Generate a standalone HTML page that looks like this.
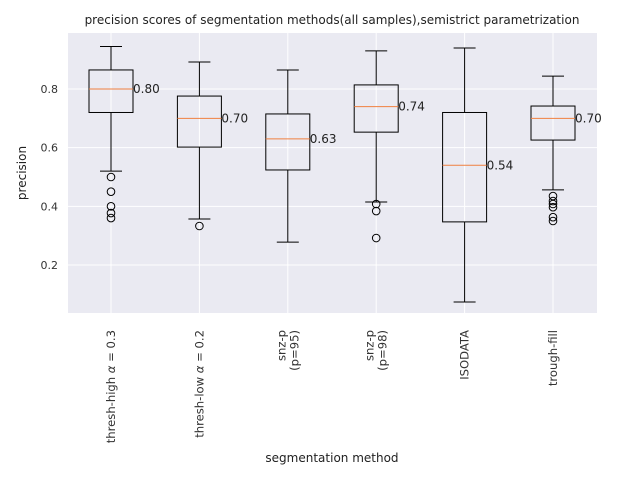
<!DOCTYPE html>
<html><head><meta charset="utf-8"><style>
body{margin:0;background:#fff;}
svg{display:block;font-family:"DejaVu Sans","Liberation Sans",sans-serif;}
</style></head><body>
<svg id="chart" width="640" height="480" viewBox="0 0 640 480" xmlns="http://www.w3.org/2000/svg">
<rect x="68" y="33" width="529" height="280" fill="#eaeaf2"/>
<g id="grid"></g>
<g id="marks"></g>
<g id="labels"></g>
<text x="332" y="24" font-size="12" text-anchor="middle" fill="#222">precision scores of segmentation methods(all samples),semistrict parametrization</text>
<text x="332" y="462" font-size="12" text-anchor="middle" fill="#222">segmentation method</text>
<text x="26" y="173" font-size="12" text-anchor="middle" fill="#222" transform="rotate(-90 26 173)">precision</text>
</svg>
<script>
const categories=["thresh-high |α| = 0.3","thresh-low |α| = 0.2","snz-p\n(p=95)","snz-p\n(p=98)","ISODATA","trough-fill"];
const whisLo=[0.52,0.357,0.278,0.415,0.074,0.456];
const q1=[0.72,0.602,0.524,0.653,0.347,0.626];
const medians=[0.80,0.70,0.63,0.74,0.54,0.70];
const q3=[0.865,0.776,0.715,0.814,0.72,0.742];
const whisHi=[0.945,0.892,0.865,0.93,0.94,0.844];
const outliers=[[0.50,0.45,0.40,0.377,0.36],[0.333],[],[0.408,0.384,0.292],[],[0.435,0.418,0.408,0.397,0.363,0.35]];
const yTicks=[0.2,0.4,0.6,0.8];
const NS="http://www.w3.org/2000/svg";
const y=v=>265-(v-0.2)*293.3;
const x=i=>111+i*88.4;
function mk(p,t,a){const e=document.createElementNS(NS,t);for(const k in a)e.setAttribute(k,a[k]);p.appendChild(e);return e;}
const grid=document.getElementById('grid'),marks=document.getElementById('marks'),labels=document.getElementById('labels');
yTicks.forEach(t=>{
 const l=mk(grid,'line',{x1:68,x2:597,y1:y(t),y2:y(t),stroke:'#fff','stroke-width':1});
 
 
 const tx=mk(labels,'text',{x:58,y:y(t)+4,'font-size':11,'text-anchor':'end',fill:'#333'});
 tx.textContent=t.toFixed(1);
 
 
});
categories.forEach((c,i)=>{
 const cx=x(i);
 const gl=mk(grid,'line',{x1:cx,x2:cx,y1:33,y2:313,stroke:'#fff','stroke-width':1});
 
 
 const g=mk(marks,'g',{});
 
 
 const s={stroke:'#000','stroke-width':1,fill:'none'};
 mk(g,'line',Object.assign({x1:cx,x2:cx,y1:y(whisLo[i]),y2:y(q1[i])},s));
 mk(g,'line',Object.assign({x1:cx,x2:cx,y1:y(q3[i]),y2:y(whisHi[i])},s));
 mk(g,'line',Object.assign({x1:cx-11,x2:cx+11,y1:y(whisLo[i]),y2:y(whisLo[i])},s));
 mk(g,'line',Object.assign({x1:cx-11,x2:cx+11,y1:y(whisHi[i]),y2:y(whisHi[i])},s));
 mk(g,'rect',Object.assign({x:cx-22,y:y(q3[i]),width:44,height:y(q1[i])-y(q3[i])},s));
 mk(g,'line',{x1:cx-22,x2:cx+22,y1:y(medians[i]),y2:y(medians[i]),stroke:'#f08040','stroke-width':1});
 outliers[i].forEach(o=>{const c2=mk(g,'circle',{cx:cx,cy:y(o),r:3.8,fill:'none',stroke:'#000'});
  
  });
 const mt=mk(labels,'text',{x:cx+22,y:y(medians[i])+4,'font-size':12,fill:'#222'});
 mt.textContent=medians[i].toFixed(2);
 
 
 const lines=c.split('\n');
 const t=mk(labels,'text',{'font-size':11.6,fill:'#333','text-anchor':'end',transform:`translate(${cx},330) rotate(-90)`});
 
 
 lines.forEach((ln,j)=>{const ts=mk(t,'tspan',{x:0,y:(j-(lines.length-1)/2)*13+4});
  const parts=ln.split('|');
  parts.forEach((p,k)=>{const sp=mk(ts,'tspan',k===1?{'font-style':'italic'}:{});sp.textContent=p;});
 });
});
</script>
</body></html>
